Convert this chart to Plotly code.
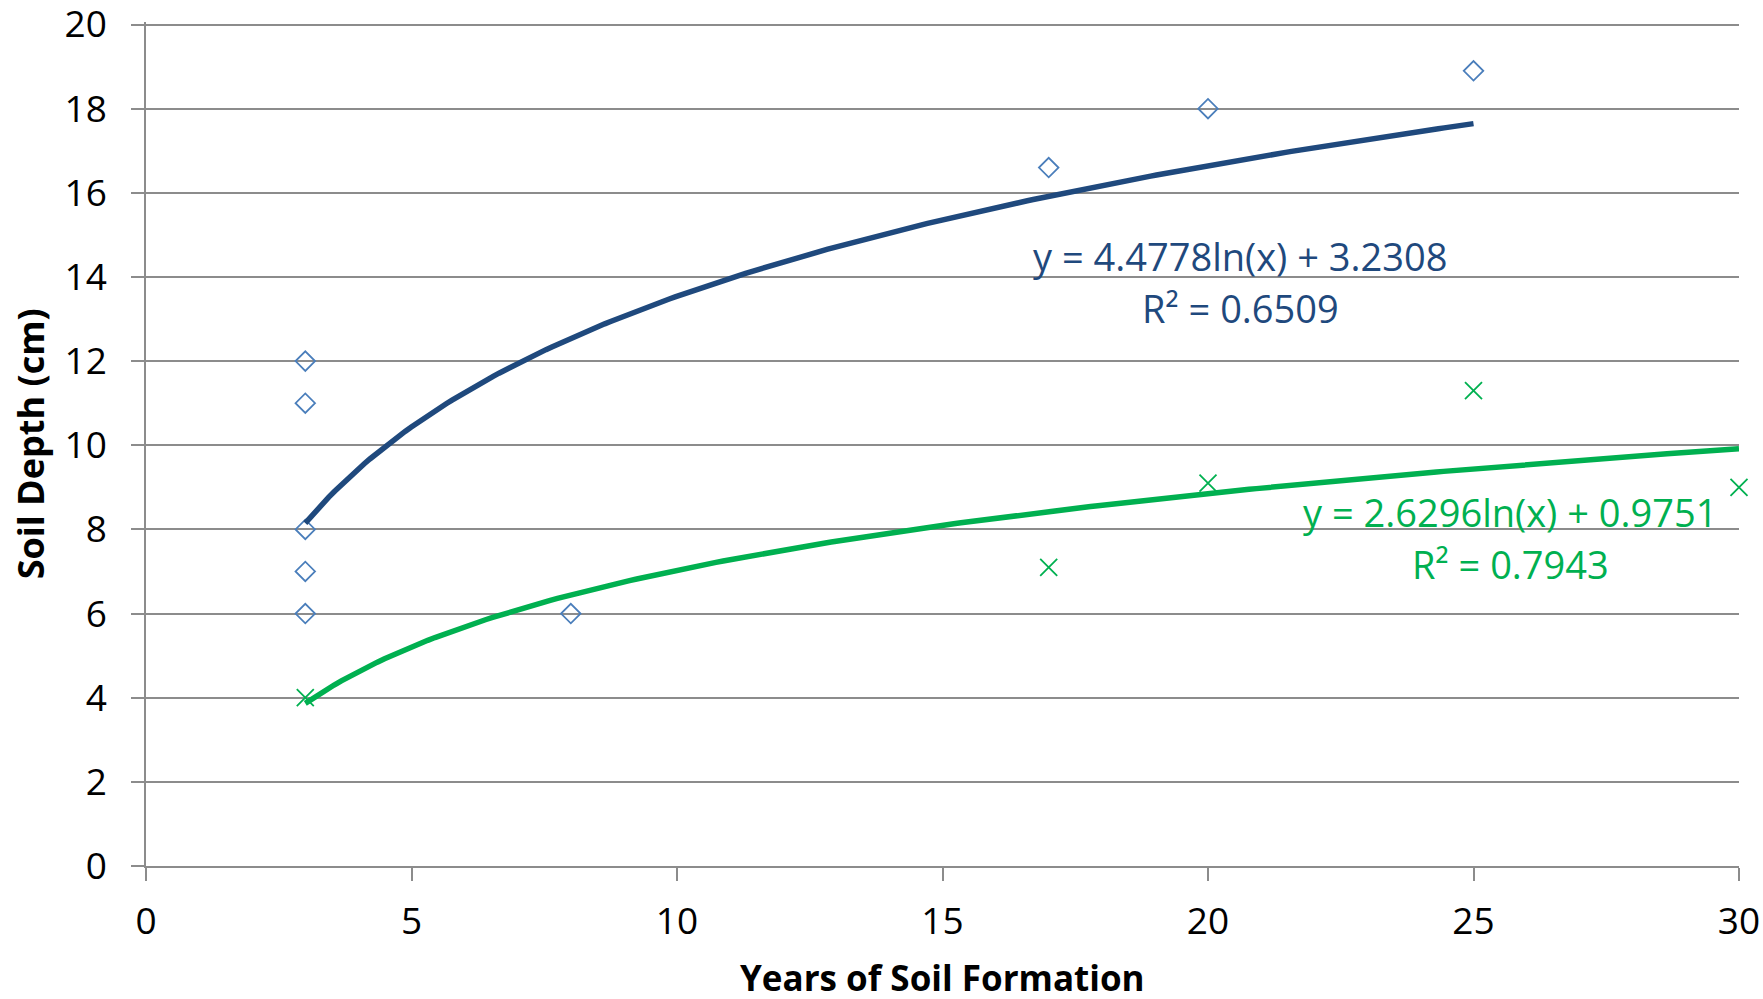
import numpy as np
import plotly.graph_objects as go

# Series A (blue diamonds)
years_a = [3, 3, 3, 3, 3, 8, 17, 20, 25]
depth_a = [12, 11, 8, 7, 6, 6, 16.6, 18, 18.9]
# Series B (green crosses)
years_b = [3, 17, 20, 25, 30]
depth_b = [4, 7.1, 9.1, 11.3, 9.0]

x_ticks = [0, 5, 10, 15, 20, 25, 30]
y_ticks = [0, 2, 4, 6, 8, 10, 12, 14, 16, 18, 20]

eq_a = ["y = 4.4778ln(x) + 3.2308", "R² = 0.6509"]
eq_b = ["y = 2.6296ln(x) + 0.9751", "R² = 0.7943"]
x_title = "Years of Soil Formation"
y_title = "Soil Depth (cm)"

BLUE_MK = "#4A7EBB"
BLUE_LN = "#1F497D"
GREEN = "#00B050"
GRID = "#8C8C8C"
FONT = "Open Sans"


def log_fit(xs, ys):
    slope, icpt = np.polyfit(np.log(xs), ys, 1)
    xx = np.linspace(min(xs), max(xs), 200)
    return xx, slope * np.log(xx) + icpt


fig = go.Figure()
fig.add_trace(go.Scatter(x=years_a, y=depth_a, mode="markers", cliponaxis=False,
                         marker=dict(symbol="diamond-open", size=15, color=BLUE_MK,
                                     line=dict(width=1.8, color=BLUE_MK)),
                         showlegend=False))
fig.add_trace(go.Scatter(x=years_b, y=depth_b, mode="markers", cliponaxis=False,
                         marker=dict(symbol="x-thin-open", size=17, color=GREEN,
                                     line=dict(width=1.8, color=GREEN)),
                         showlegend=False))
xa, ya = log_fit(years_a, depth_a)
xb, yb = log_fit(years_b, depth_b)
fig.add_trace(go.Scatter(x=xa, y=ya, mode="lines", line=dict(color=BLUE_LN, width=5.5),
                         showlegend=False))
fig.add_trace(go.Scatter(x=xb, y=yb, mode="lines", line=dict(color=GREEN, width=5.5),
                         showlegend=False))

ann_font = 38
for txt, ypos in zip(eq_a, [0.723, 0.661]):
    fig.add_annotation(text=txt, xref="paper", yref="paper", x=0.6868, y=ypos,
                       showarrow=False, xanchor="center", yanchor="middle",
                       font=dict(family=FONT, size=ann_font, color=BLUE_LN))
for txt, ypos in zip(eq_b, [0.4197, 0.3579]):
    fig.add_annotation(text=txt, xref="paper", yref="paper", x=0.8563, y=ypos,
                       showarrow=False, xanchor="center", yanchor="middle",
                       font=dict(family=FONT, size=ann_font, color=GREEN))

# axis titles
fig.add_annotation(text="<b>" + x_title + "</b>", xref="paper", yref="paper",
                   x=0.5, y=-0.132, showarrow=False, xanchor="center", yanchor="middle",
                   font=dict(family=FONT, size=35, color="black"))
fig.add_annotation(text="<b>" + y_title + "</b>", xref="paper", yref="paper",
                   x=-0.0726, y=0.5, textangle=-90, showarrow=False,
                   xanchor="center", yanchor="middle",
                   font=dict(family=FONT, size=36, color="black"))

fig.update_layout(
    width=1763, height=999,
    margin=dict(l=146, r=24, t=22, b=133),
    paper_bgcolor="white", plot_bgcolor="white",
    font=dict(family=FONT, color="black"),
)
fig.update_xaxes(range=[0, 30], tickvals=x_ticks, showgrid=False, zeroline=False,
                 showline=True, linecolor=GRID, linewidth=1.5,
                 ticks="outside", ticklen=13, tickcolor=GRID, tickwidth=1.5,
                 tickfont=dict(size=37), ticklabelstandoff=9,
                 ticklabeloverflow="allow", automargin=False)
fig.update_yaxes(range=[0, 20.06], tickvals=y_ticks, showgrid=True, gridcolor=GRID,
                 gridwidth=1.5, zeroline=False,
                 showline=True, linecolor=GRID, linewidth=1.5,
                 ticks="outside", ticklen=13, tickcolor=GRID, tickwidth=1.5,
                 tickfont=dict(size=37), ticklabelstandoff=17,
                 ticklabeloverflow="allow", automargin=False)

fig.write_html("out.html", config={"displayModeBar": False},
               post_script="document.body.style.margin='0';document.body.style.overflow='hidden';")
